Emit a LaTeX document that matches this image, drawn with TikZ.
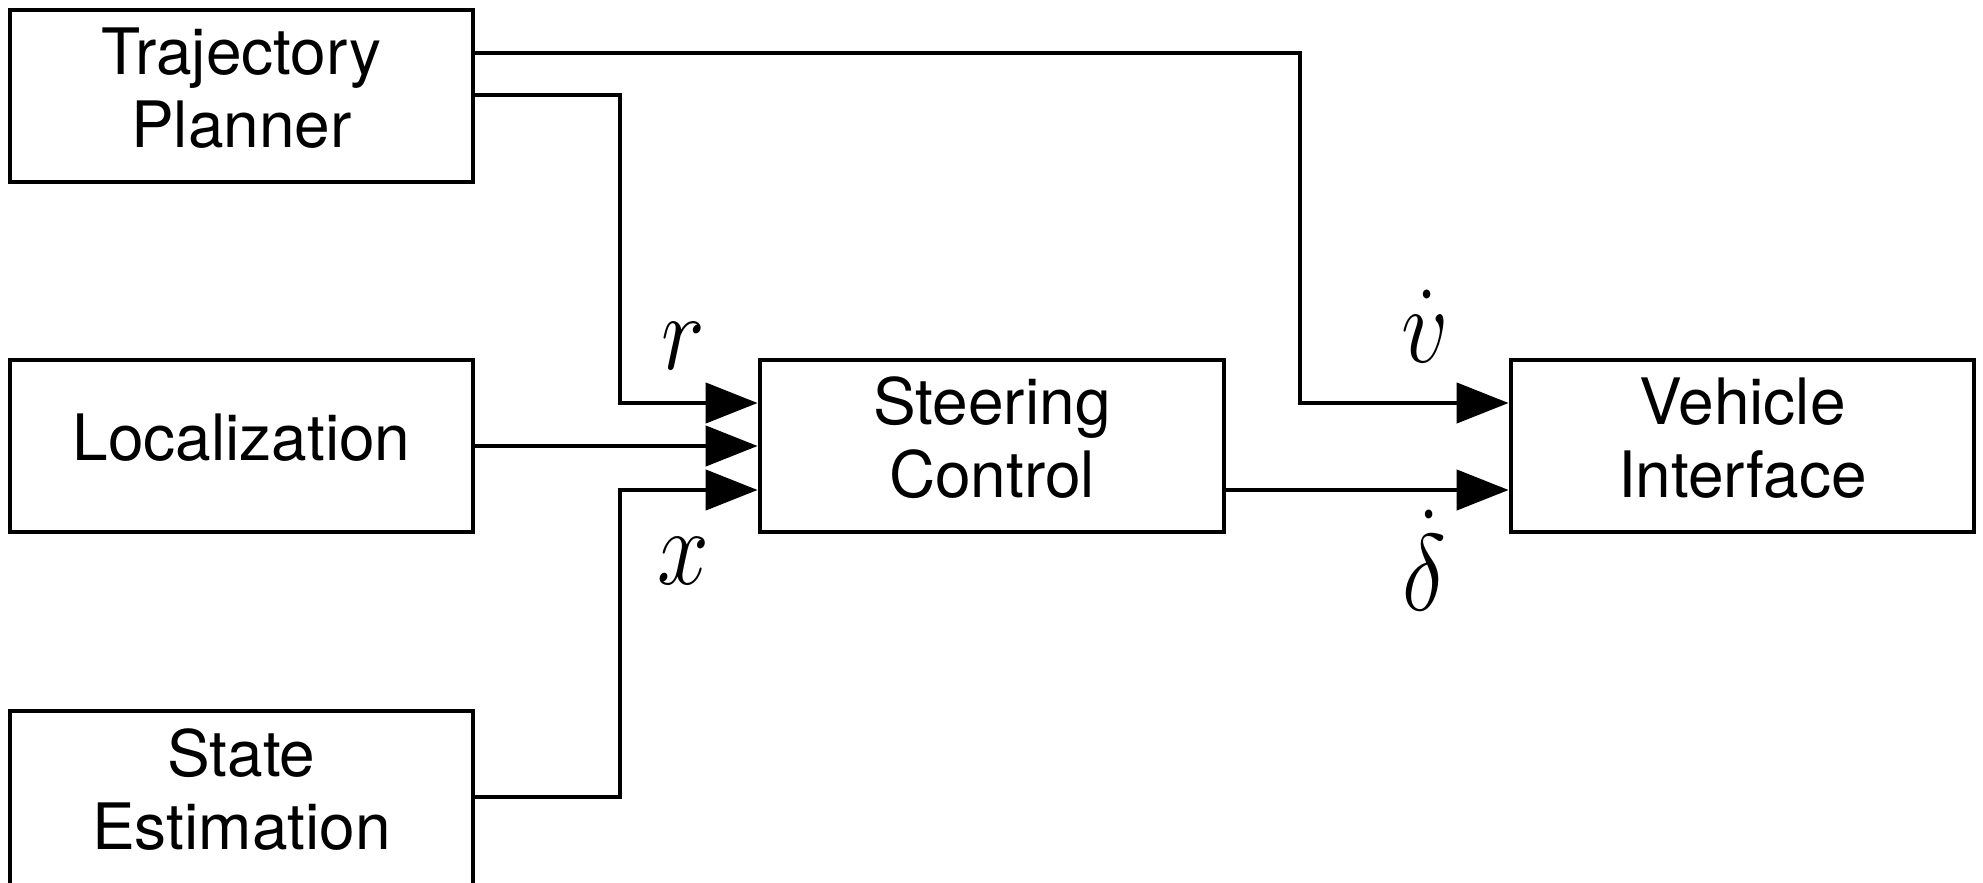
\RequirePackage{fix-cm}
\documentclass[tikz,border=0pt]{standalone}
\usepackage{fontspec}
\setmainfont{TeX Gyre Heros}
\usetikzlibrary{arrows.meta}
\begin{document}
\begin{tikzpicture}[x=0.5pt,y=-0.5pt,
  blockbox/.style={draw, line width=2.4pt, inner sep=0pt, minimum width=231.5pt, minimum height=86pt,
    font=\fontsize{32}{36.5}\selectfont},
  arr/.style={line width=2.2pt, -{Triangle[length=26pt,width=20pt]}},
  mlabel/.style={anchor=base, inner sep=0pt, font=\fontsize{46.5}{50}\selectfont}]
\useasboundingbox (0,0) rectangle (1983,883);
\clip (0,0) rectangle (1983,883);
\node[blockbox] (tp) at (241.5,96) {\begin{tabular}{@{}c@{}}Trajectory\\Planner\end{tabular}};
\node[blockbox] (loc) at (241.5,446) {\begin{tabular}{@{}c@{}}Localization\end{tabular}};
\node[blockbox, minimum height=87.5pt] (se) at (241.5,798.5) {\begin{tabular}{@{}c@{}}State\\Estimation\end{tabular}};
\node[blockbox, minimum width=232pt] (sc) at (992,446) {\begin{tabular}{@{}c@{}}Steering\\Control\end{tabular}};
\node[blockbox] (vi) at (1742.5,446) {\begin{tabular}{@{}c@{}}Vehicle\\Interface\end{tabular}};
\coordinate (k1) at (1300,53);
\coordinate (k2) at (620,95);
\coordinate (k3) at (620,797);
\draw[arr] (tp.east |- k1) -- (k1) |- (vi.west |- 0,403);
\draw[arr] (tp.east |- k2) -- (k2) |- (sc.west |- 0,403);
\draw[arr] (loc.east) -- (sc.west);
\draw[arr] (se.east |- k3) -- (k3) |- (sc.west |- 0,490);
\draw[arr] (sc.east |- 0,490) -- (vi.west |- 0,490);
\node[mlabel] (lr) at (683,369) {\scalebox{1}[1.17]{$r$}};
\node[mlabel] (lx) at (683,584) {\scalebox{1}[1.17]{$x$}};
\node[mlabel] (lv) at (1425,362) {\scalebox{1}[1.17]{$\dot{v}$}};
\node[mlabel] (ld) at (1424,610) {\scalebox{1}[1.17]{$\dot{\delta}$}};
\end{tikzpicture}
\end{document}
